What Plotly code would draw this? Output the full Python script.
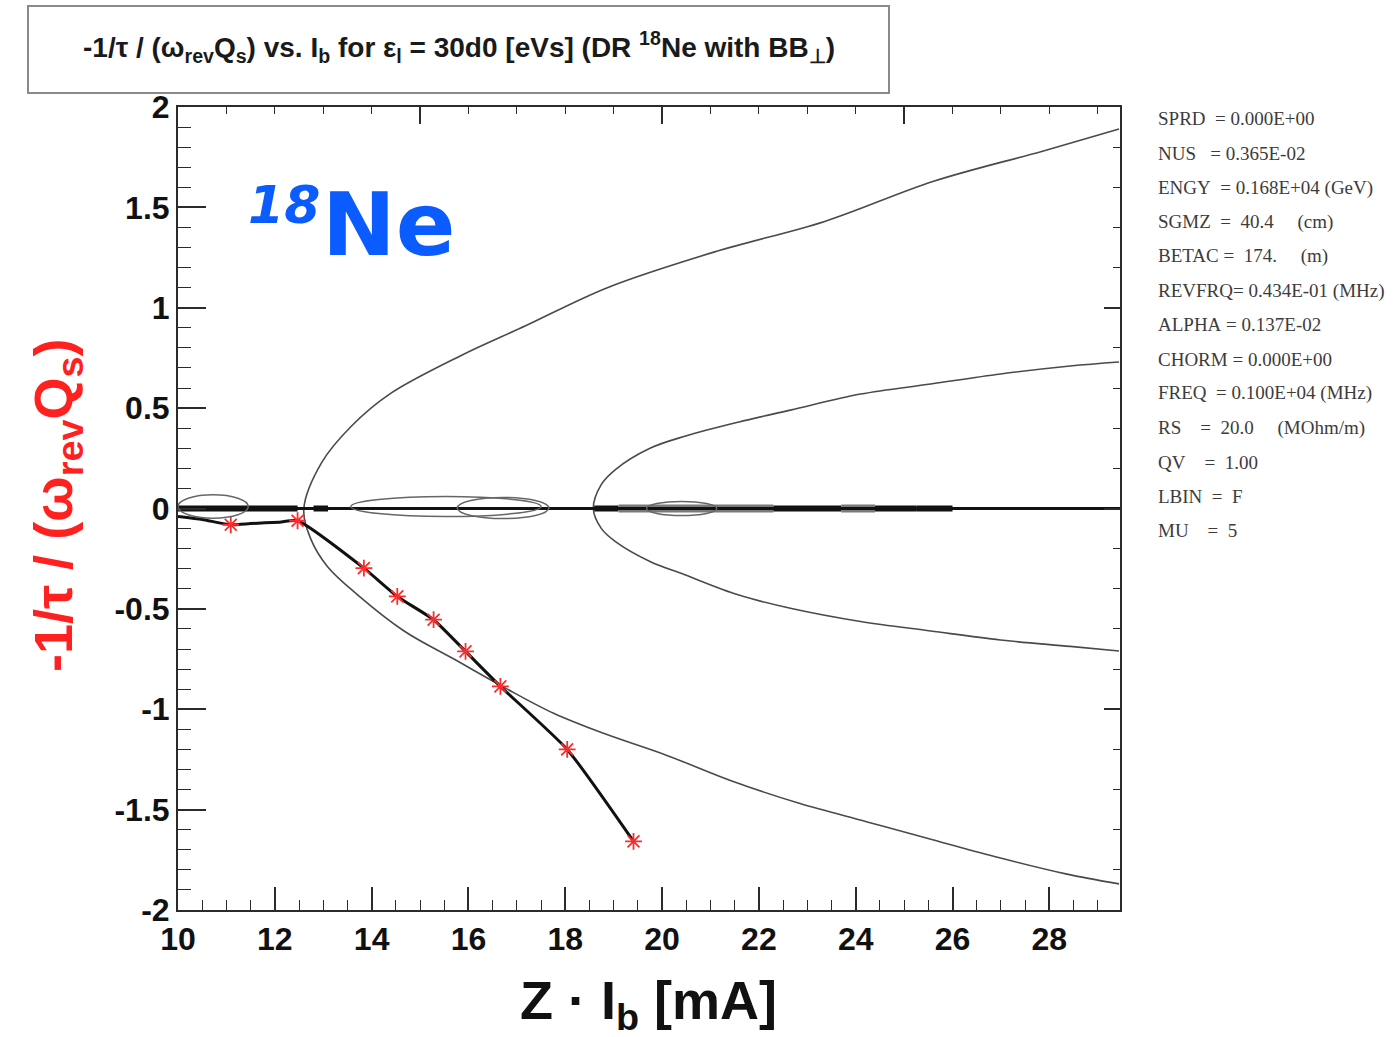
import plotly.graph_objects as go

# ---------------- data ----------------
# measured points (red stars) and the black curve through them
line_x = [10.0, 10.5, 11.09, 11.5, 12.1, 12.47, 13.84, 14.53, 15.28, 15.94, 16.66, 18.04, 19.41]
line_y = [-0.04, -0.055, -0.081, -0.075, -0.068, -0.061, -0.297, -0.438, -0.554, -0.712, -0.886, -1.20, -1.658]
star_x = [11.09, 12.47, 13.84, 14.53, 15.28, 15.94, 16.66, 18.04, 19.41]
star_y = [-0.081, -0.061, -0.297, -0.438, -0.554, -0.712, -0.886, -1.20, -1.658]

# outer curve (vertex near 12.6)
outer_x = [29.44, 27.86, 25.61, 23.36, 21.11, 18.87, 17.18, 15.83, 14.37, 13.58, 12.97, 12.60,
           12.74, 13.09, 13.71, 14.67, 15.70, 16.73, 17.76, 18.79, 20.10, 21.47, 22.85, 24.22,
           25.59, 26.97, 28.34, 29.44]
outer_y = [1.89, 1.78, 1.63, 1.43, 1.28, 1.10, 0.91, 0.76, 0.57, 0.41, 0.23, 0.0,
           -0.15, -0.29, -0.43, -0.61, -0.75, -0.89, -1.02, -1.12, -1.23, -1.36, -1.47, -1.56,
           -1.65, -1.74, -1.82, -1.87]

# inner curve (vertex near 18.6)
inner_x = [29.44, 28.43, 26.99, 25.55, 24.10, 22.65, 21.57, 20.47, 19.75, 19.03, 18.74, 18.58,
           18.74, 19.03, 19.75, 20.47, 21.57, 22.65, 24.10, 25.55, 26.99, 28.43, 29.44]
inner_y = [0.73, 0.71, 0.67, 0.62, 0.57, 0.49, 0.43, 0.36, 0.30, 0.193, 0.118, 0.0,
           -0.098, -0.164, -0.264, -0.33, -0.43, -0.497, -0.563, -0.61, -0.655, -0.687, -0.71]

# zero-mode line and the thickened pieces along it
zero_x = [10.0, 29.46]
zero_y = [0.0, 0.0]
seg_start = [10.0, 12.8, 18.6, 19.1, 22.3, 23.7, 24.4, 25.26]
seg_end = [12.47, 13.1, 19.1, 22.3, 23.7, 24.4, 25.26, 26.0]
seg_kind = ["black", "black", "black", "gray", "black", "gray", "black", "black"]

# narrow ellipses around the zero line: x0, x1, y0, y1
ell_x0 = [10.0, 13.57, 15.77, 19.68]
ell_x1 = [11.45, 17.50, 17.66, 21.13]
ell_y0 = [-0.048, -0.04, -0.05, -0.035]
ell_y1 = [0.068, 0.06, 0.055, 0.035]

x_major = [10, 12, 14, 16, 18, 20, 22, 24, 26, 28]
x_labels = ["10", "12", "14", "16", "18", "20", "22", "24", "26", "28"]
y_major = [2, 1.5, 1, 0.5, 0, -0.5, -1, -1.5, -2]
y_labels = ["2", "1.5", "1", "0.5", "0", "-0.5", "-1", "-1.5", "-2"]

NB = "\u00a0"
params = [
    "SPRD" + NB * 2 + "=" + NB + "0.000E+00",
    "NUS" + NB * 3 + "=" + NB + "0.365E-02",
    "ENGY" + NB * 2 + "=" + NB + "0.168E+04" + NB + "(GeV)",
    "SGMZ" + NB * 2 + "=" + NB * 2 + "40.4" + NB * 5 + "(cm)",
    "BETAC" + NB + "=" + NB * 2 + "174." + NB * 5 + "(m)",
    "REVFRQ=" + NB + "0.434E-01" + NB + "(MHz)",
    "ALPHA" + NB + "=" + NB + "0.137E-02",
    "CHORM" + NB + "=" + NB + "0.000E+00",
    "FREQ" + NB * 2 + "=" + NB + "0.100E+04" + NB + "(MHz)",
    "RS" + NB * 4 + "=" + NB * 2 + "20.0" + NB * 5 + "(MOhm/m)",
    "QV" + NB * 4 + "=" + NB * 2 + "1.00",
    "LBIN" + NB * 2 + "=" + NB * 2 + "F",
    "MU" + NB * 4 + "=" + NB * 2 + "5",
]

XR = [10, 29.46]
YR = [-2, 2]

# ---------------- figure ----------------
W, H = 1394, 1037
L, R, T, B = 178, 274, 107, 127
PW, PH = W - L - R, H - T - B


def px(x):
    return (x - L) / PW


def py(y):
    return (H - B - y) / PH


fig = go.Figure()

CURVE = "#4a4a4a"
fig.add_trace(go.Scatter(x=outer_x, y=outer_y, mode="lines",
                         line=dict(color=CURVE, width=1.6, shape="spline", smoothing=1.0),
                         hoverinfo="skip", showlegend=False))
fig.add_trace(go.Scatter(x=inner_x, y=inner_y, mode="lines",
                         line=dict(color=CURVE, width=1.6, shape="spline", smoothing=1.0),
                         hoverinfo="skip", showlegend=False))

# zero line on the overlay axes (also makes the top/right axes render)
fig.add_trace(go.Scatter(x=zero_x, y=zero_y, mode="lines", xaxis="x2", yaxis="y2",
                         line=dict(color="#111111", width=3), hoverinfo="skip", showlegend=False))

seg_color = {"black": "#111111", "gray": "#7a7a7a"}
seg_width = {"black": 6, "gray": 8}
for s, e, k in zip(seg_start, seg_end, seg_kind):
    fig.add_trace(go.Scatter(x=[s, e], y=[0, 0], mode="lines",
                             line=dict(color=seg_color[k], width=seg_width[k]),
                             hoverinfo="skip", showlegend=False))

fig.add_trace(go.Scatter(x=line_x, y=line_y, mode="lines",
                         line=dict(color="#111111", width=3, shape="spline", smoothing=0.5),
                         hoverinfo="skip", showlegend=False))
fig.add_trace(go.Scatter(x=star_x, y=star_y, mode="markers",
                         marker=dict(symbol="asterisk-open", size=14, color="#ff2a2a",
                                     line=dict(color="#ff2a2a", width=1.8)),
                         hoverinfo="skip", showlegend=False))

shapes = []
for x0, x1, y0, y1 in zip(ell_x0, ell_x1, ell_y0, ell_y1):
    shapes.append(dict(type="circle", xref="x", yref="y", x0=x0, x1=x1, y0=y0, y1=y1,
                       line=dict(color="#666666", width=1.5)))
# title box
shapes.append(dict(type="rect", xref="paper", yref="paper",
                   x0=px(28), x1=px(889), y0=py(93), y1=py(6),
                   line=dict(color="#8a8a8a", width=2), fillcolor="white", layer="below"))

annotations = []
annotations.append(dict(
    xref="paper", yref="paper", x=px(459), y=py(47), xanchor="center", yanchor="middle",
    text="<b>-1/τ / (ω<sub>rev</sub>Q<sub>s</sub>) vs. I<sub>b</sub> for ε<sub>l</sub> = 30d0 [eVs] "
         "(DR <sup>18</sup>Ne with BB<sub>⊥</sub>)</b>",
    showarrow=False, font=dict(family="Liberation Sans, Arial", size=28, color="#1a1a1a")))

for i, t in enumerate(params):
    annotations.append(dict(
        xref="paper", yref="paper", x=px(1156), y=py(119 + i * 34.3),
        xanchor="left", yanchor="middle", text=t, showarrow=False,
        font=dict(family="Liberation Serif, Times New Roman", size=19, color="#3c3c3c")))

annotations.append(dict(
    xref="paper", yref="paper", x=px(57), y=py(505), xanchor="center", yanchor="middle",
    textangle=-90, showarrow=False,
    text="<b>-1/τ / (ω<sub>rev</sub>Q<sub>s</sub>)</b>",
    font=dict(family="Liberation Sans, Arial", size=54, color="#ff2020")))

annotations.append(dict(
    xref="paper", yref="paper", x=px(648), y=py(1004), xanchor="center", yanchor="middle",
    showarrow=False, text="<b>Z · I<sub>b</sub> [mA]</b>",
    font=dict(family="Liberation Sans, Arial", size=54, color="#111111")))

annotations.append(dict(
    xref="paper", yref="paper", x=px(322), y=py(205), xanchor="right", yanchor="middle",
    showarrow=False, text="<b><i>18</i></b>",
    font=dict(family="DejaVu Sans", size=52, color="#0a5cff")))
annotations.append(dict(
    xref="paper", yref="paper", x=px(320), y=py(224), xanchor="left", yanchor="middle",
    showarrow=False, text="<b>Ne</b>",
    font=dict(family="DejaVu Sans", size=88, color="#0a5cff")))

AX = "#2b2b2b"
TICKFONT = dict(family="Liberation Sans, Arial", size=32, color="#111111")

fig.update_layout(
    width=W, height=H,
    margin=dict(l=L, r=R, t=T, b=B, pad=0),
    paper_bgcolor="white", plot_bgcolor="white",
    showlegend=False,
    shapes=shapes, annotations=annotations,
    xaxis=dict(range=XR, showgrid=False, zeroline=False, showline=True, linecolor=AX, linewidth=2,
               ticks="inside", ticklen=23, tickwidth=1.5, tickcolor=AX,
               tickmode="array", tickvals=x_major, ticktext=["<b>%s</b>" % s for s in x_labels],
               tickfont=TICKFONT, mirror=False,
               minor=dict(ticks="inside", tickmode="linear", tick0=10, dtick=0.5,
                          ticklen=10, tickwidth=1.2, tickcolor=AX)),
    yaxis=dict(range=YR, showgrid=False, zeroline=False, showline=True, linecolor=AX, linewidth=2,
               ticks="inside", ticklen=28, tickwidth=1.5, tickcolor=AX,
               tickmode="array", tickvals=y_major, ticktext=["<b>%s</b>" % s for s in y_labels],
               tickfont=TICKFONT, mirror=False,
               minor=dict(ticks="inside", tickmode="linear", tick0=0, dtick=0.1,
                          ticklen=13, tickwidth=1.2, tickcolor=AX)),
    xaxis2=dict(range=XR, overlaying="x", side="top", showgrid=False, zeroline=False,
                showline=True, linecolor=AX, linewidth=2, showticklabels=False,
                ticks="inside", ticklen=17, tickwidth=1.5, tickcolor=AX,
                tickmode="linear", tick0=10, dtick=5,
                minor=dict(ticks="inside", tickmode="linear", tick0=10, dtick=1,
                           ticklen=7, tickwidth=1.2, tickcolor=AX)),
    yaxis2=dict(range=YR, overlaying="y", side="right", showgrid=False, zeroline=False,
                showline=True, linecolor=AX, linewidth=2, showticklabels=False,
                ticks="inside", ticklen=16, tickwidth=1.5, tickcolor=AX,
                tickmode="linear", tick0=0, dtick=1,
                minor=dict(ticks="inside", tickmode="linear", tick0=0, dtick=0.2,
                           ticklen=7, tickwidth=1.2, tickcolor=AX)),
)

fig.write_html("out.html")
